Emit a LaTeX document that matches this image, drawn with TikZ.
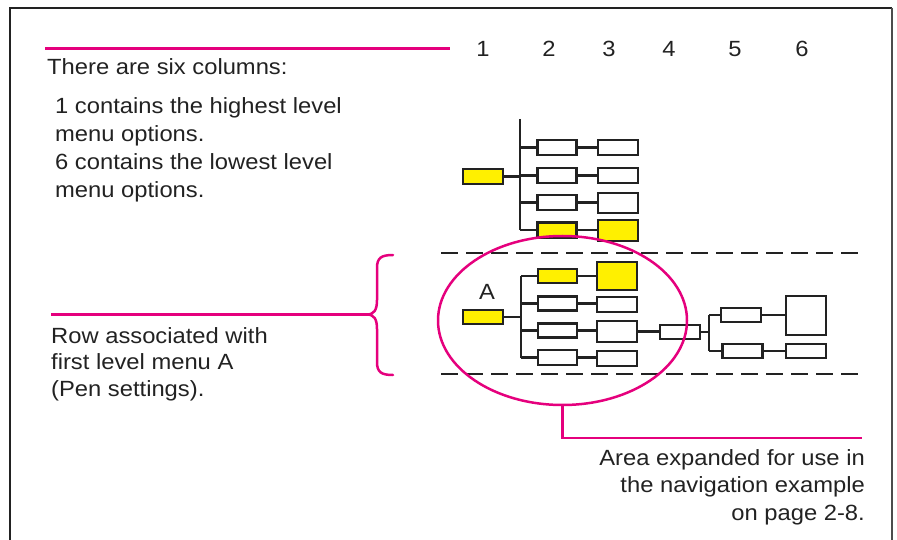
\documentclass[tikz,border=0pt]{standalone}
\usepackage{fontspec}
\setmainfont{Liberation Sans}[FakeStretch=1.08]
\usetikzlibrary{shapes.geometric}
\definecolor{mag}{HTML}{E5007D}
\definecolor{ylw}{HTML}{FFF000}
\definecolor{ink}{HTML}{222222}
\begin{document}
\begin{tikzpicture}[x=1pt,y=-1pt,
  box/.style={draw=ink, line width=2.2pt, fill=white, inner sep=0pt, minimum width=40pt, minimum height=15pt},
  hl/.style={box, fill=ylw},
  wire/.style={draw=ink, line width=2.2pt},
  mline/.style={draw=mag, line width=2.5pt},
  txt/.style={text=ink, inner sep=0pt, font=\fontsize{22pt}{28.3pt}\selectfont},
  dashline/.style={draw=ink, line width=2pt, dash pattern=on 17pt off 8pt}]
\useasboundingbox (0,0) rectangle (897,540);
% frame
\draw[line width=2pt, draw=ink] (10,540) -- (10,8) -- (892,8);
\draw[line width=2pt, draw=gray!60!black] (892,8) -- (892,540);

% column numbers
\node[txt, anchor=base] (n1) at (483,57) {1};
\node[txt, anchor=base] (n2) at (549,57) {2};
\node[txt, anchor=base] (n3) at (609,57) {3};
\node[txt, anchor=base] (n4) at (669,57) {4};
\node[txt, anchor=base] (n5) at (735,57) {5};
\node[txt, anchor=base] (n6) at (802,57) {6};

% top magenta line and texts
\coordinate (m1) at (45,48.5);
\coordinate (m2) at (450,48.5);
\draw[mline] (m1) -- (m2);
\node[txt, anchor=base west] (six) at (47,75) {There are six columns:};
\node[txt, anchor=base west, align=left] (desc) at (55,198)
  {1 contains the highest level\\menu options.\\6 contains the lowest level\\menu options.};

% ---------- top tree ----------
\node[hl, minimum width=40pt, minimum height=15pt] (t0) at (483,176.5) {};
\coordinate (tt) at (520,119);
\coordinate (tb) at (520,230);
\node[box, minimum width=39pt] (t21) at (557,147.5) {};
\node[box, minimum width=39pt] (t22) at (557,175.5) {};
\node[box, minimum width=39pt] (t23) at (557,202.5) {};
\node[hl,  minimum width=39pt] (t24) at (557,230) {};
\node[box] (t31) at (618,147.5) {};
\node[box] (t32) at (618,175.5) {};
\node[box, minimum height=20pt] (t33) at (618,203) {};
\node[hl,  minimum height=21pt] (t34) at (618,230.5) {};
\draw[wire] (tt) -- (tb);
\draw[wire] (t0.east) -- (t0.east -| tt);
\foreach \i in {1,2,3,4} {
  \draw[wire] (t2\i.west -| tt) -- (t2\i.west);
  \draw[wire] (t2\i.east) -- (t2\i.east -| t3\i.west);
}

% dashed row lines
\coordinate (d1a) at (441,253.5);
\coordinate (d1b) at (860,253.5);
\coordinate (d2a) at (441,374);
\coordinate (d2b) at (860,374);
\draw[dashline] (d1a) -- (d1b);
\draw[dashline] (d2a) -- (d2b);

% ---------- bottom tree ----------
\node[txt, anchor=base] (lblA) at (487,299) {A};
\node[hl, minimum height=14pt] (b0) at (483,317) {};
\coordinate (bt) at (521,276);
\coordinate (bb) at (521,357.5);
\node[hl,  minimum width=39pt, minimum height=14pt] (b21) at (557.5,276) {};
\node[box, minimum width=39pt, minimum height=14pt] (b22) at (557.5,303.5) {};
\node[box, minimum width=39pt, minimum height=14pt] (b23) at (557.5,330.5) {};
\node[box, minimum width=39pt, minimum height=15pt] (b24) at (557.5,357.5) {};
\node[hl,  minimum height=28pt] (b31) at (617,276) {};
\node[box, minimum height=15pt] (b32) at (617,304.5) {};
\node[box, minimum height=21pt] (b33) at (617,331.5) {};
\node[box, minimum height=15pt] (b34) at (617,358.5) {};
\draw[wire] (bt) -- (bb);
\draw[wire] (b0.east) -- (b0.east -| bt);
\foreach \i in {1,2,3,4} {
  \draw[wire] (b2\i.west -| bt) -- (b2\i.west);
  \draw[wire] (b2\i.east) -- (b2\i.east -| b3\i.west);
}
\node[box, minimum height=14pt] (b4) at (680,332) {};
\draw[wire] (b33.east) -- (b33.east -| b4.west);
\coordinate (ct) at (709,315);
\coordinate (cb) at (709,351);
\node[box, minimum height=14pt] (b51) at (741,315) {};
\node[box, minimum height=14pt] (b52) at (742.5,351) {};
\node[box, minimum height=39pt] (b61) at (806,315.5) {};
\node[box, minimum height=14pt] (b62) at (806,351) {};
\draw[wire] (ct) -- (cb);
\draw[wire] (b4.east) -- (b4.east -| ct);
\draw[wire] (ct) -- (ct -| b51.west);
\draw[wire] (cb) -- (cb -| b52.west);
\draw[wire] (b51.east) -- (b51.east -| b61.west);
\draw[wire] (b52.east) -- (b52.east -| b62.west);

% ---------- brace and row label ----------
\coordinate (r1) at (51,314.5);
\coordinate (bm) at (367,314.5);
\draw[mline] (r1) -- (bm);
\draw[mline, line cap=round]
  (393,255) .. controls (381,255) and (377,258) .. (377,268) -- (377,300)
  .. controls (377,310) and (374,314.5) .. (bm)
  .. controls (374,314.5) and (377,319) .. (377,329) -- (377,362)
  .. controls (377,372) and (381,375) .. (393,375);
\node[txt, anchor=base west, align=left, font=\fontsize{22pt}{26.7pt}\selectfont] (row) at (51,396.5)
  {Row associated with\\first level menu A\\(Pen settings).};

% ---------- ellipse and callout ----------
\node[ellipse, draw=mag, line width=2.5pt, minimum width=249pt, minimum height=169pt, inner sep=0pt] (ell) at (562.5,320.5) {};
\coordinate (c1) at (ell.south |- 0,438);
\coordinate (c2) at (862,438);
\draw[mline] (ell.south) -- (c1) -- (c2);
\node[txt, anchor=base east, align=right, font=\fontsize{22pt}{27.5pt}\selectfont] (area) at (865,520)
  {Area expanded for use in\\the navigation example\\on page 2-8.};
\end{tikzpicture}
\end{document}
